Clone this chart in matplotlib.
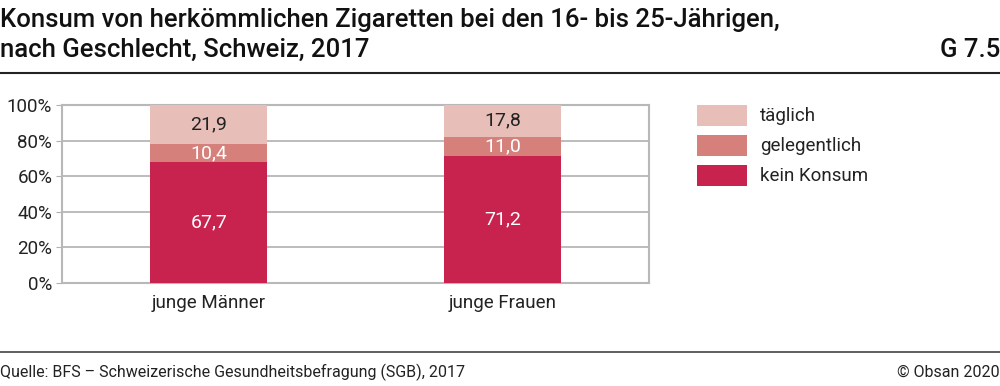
import matplotlib.pyplot as plt
from matplotlib import patches

plt.rcParams['font.family'] = ['Roboto', 'DejaVu Sans']

# data
groups = ["junge Männer", "junge Frauen"]
kein_konsum = [67.7, 71.2]
gelegentlich = [10.4, 11.0]
taeglich = [21.9, 17.8]
series_names = ["kein Konsum", "gelegentlich", "täglich"]
colors = ["#C8234E", "#D6807C", "#E8BEB8"]
label_colors = ["white", "white", "#222222"]

W, H = 1000, 386
fig = plt.figure(figsize=(W / 100, H / 100), dpi=100)


def px(x0, y0, x1, y1):
    # pixel box -> figure fraction
    return [x0 / W, 1 - y1 / H, (x1 - x0) / W, (y1 - y0) / H]


ax = fig.add_axes(px(62, 105, 649, 283))

x = list(range(len(groups)))
bottom = [0.0] * len(groups)
for vals, name, col, lcol in zip([kein_konsum, gelegentlich, taeglich],
                                 series_names, colors, label_colors):
    bars = ax.bar(x, vals, 0.4, bottom=bottom, color=col, zorder=3)
    for b, v, bt in zip(bars, vals, bottom):
        ax.text(b.get_x() + b.get_width() / 2, bt + v / 2,
                f"{v:.1f}".replace(".", ","), ha="center", va="center",
                color=lcol, fontsize=14, zorder=4)
    bottom = [a + v for a, v in zip(bottom, vals)]

ax.set_xlim(-0.5, 1.5)
ax.set_ylim(0, 100)
ax.set_yticks(range(0, 101, 20))
ax.set_yticklabels([f"{t}%" for t in range(0, 101, 20)], fontsize=13.5, color="#222222")
ax.set_xticks(x)
ax.set_xticklabels(groups, fontsize=13.5, color="#222222")
ax.tick_params(axis="x", length=0, pad=8)
ax.tick_params(axis="y", length=4, color="#b0b0b0", pad=3)
ax.grid(axis="y", color="#b0b0b0", linewidth=1.2, zorder=1)
for s in ax.spines.values():
    s.set_color("#b8b8b8")
    s.set_linewidth(1.5)

# legend drawn as a side box
for i, (name, col) in enumerate(zip(series_names[::-1], colors[::-1])):
    y0 = 105 + i * 30
    fig.patches.append(patches.Rectangle((697 / W, 1 - (y0 + 21) / H), 50 / W, 21 / H,
                                         transform=fig.transFigure, facecolor=col,
                                         edgecolor="none"))
    fig.text(760 / W, 1 - (y0 + 11) / H, name, fontsize=13.5, va="center",
             color="#222222")

# title and frame lines
fig.text(0, 1 - 20 / H, "Konsum von herkömmlichen Zigaretten bei den 16- bis 25-Jährigen,",
         fontsize=18.5, fontweight="medium", va="center", color="#111111")
fig.text(0, 1 - 50 / H, "nach Geschlecht, Schweiz, 2017",
         fontsize=18.5, fontweight="medium", va="center", color="#111111")
fig.text(1, 1 - 50 / H, "G 7.5", fontsize=18.5, fontweight="medium",
         va="center", ha="right", color="#111111")
fig.add_artist(plt.Line2D([0, 1], [1 - 73 / H, 1 - 73 / H], color="#222222", linewidth=1.5))
fig.add_artist(plt.Line2D([0, 1], [1 - 352 / H, 1 - 352 / H], color="#444444", linewidth=1.2))

fig.text(0, 1 - 372 / H, "Quelle: BFS – Schweizerische Gesundheitsbefragung (SGB), 2017",
         fontsize=11.5, va="center", color="#222222")
fig.text(1, 1 - 372 / H, "© Obsan 2020", fontsize=11.5, va="center", ha="right",
         color="#222222")

fig.savefig("out.png", dpi=100)
